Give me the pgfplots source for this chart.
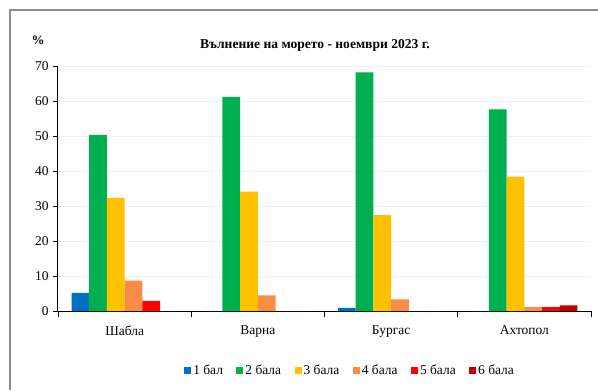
\documentclass[border=0pt]{standalone}
\usepackage{pgfplots}
\pgfplotsset{compat=1.18}
\usepackage{fontspec}
\setmainfont{Liberation Serif}
\definecolor{c1}{HTML}{0070C0}
\definecolor{c2}{HTML}{00B050}
\definecolor{c3}{HTML}{FFC000}
\definecolor{c4}{HTML}{F98D45}
\definecolor{c5}{HTML}{FF0000}
\definecolor{c6}{HTML}{C00000}
\begin{document}
\begin{tikzpicture}
\begin{axis}[
  scale only axis, width=533bp, height=245bp,
  ybar=0pt, bar width=17.7bp,
  xmin=-0.5, xmax=3.5, ymin=0, ymax=70,
  xtick={0,1,2,3},
  xticklabels={Шабла,Варна,Бургас,Ахтопол},
  minor xtick={-0.5,0.5,1.5,2.5,3.5},
  ytick={0,10,20,30,40,50,60,70},
  axis x line*=bottom, axis y line*=left,
  axis line style={black, line width=1bp},
  tick align=outside,
  major tick length=5bp,
  minor tick length=5.5bp,
  x tick style={draw=none},
  minor x tick style={draw=black, line width=0.8bp},
  y tick style={black, line width=0.8bp},
  ymajorgrids, grid style={color=black!6, line width=0.8bp},
  ticklabel style={font=\fontsize{13.5}{14}\selectfont},
  /pgf/number format/assume math mode=true,
  xticklabel style={yshift=-6bp},
  yticklabel style={xshift=-1bp},
  every axis plot/.append style={draw=none},
  legend style={at={(axis description cs:0.548,-0.241)}, anchor=center,
    draw=none, fill=none, legend columns=6,
    font=\fontsize{13.5}{14}\selectfont,
    /tikz/every even column/.append style={column sep=11.5bp}},
  legend image code/.code={\fill[#1] (0bp,-3.5bp) rectangle (7bp,3.5bp);},
]
\addplot[fill=c1] coordinates {(0,5.2) (1,0) (2,0.9) (3,0)};
\addplot[fill=c2] coordinates {(0,50.3) (1,61.2) (2,68.2) (3,57.6)};
\addplot[fill=c3] coordinates {(0,32.3) (1,34.1) (2,27.4) (3,38.4)};
\addplot[fill=c4] coordinates {(0,8.7) (1,4.5) (2,3.3) (3,1.1)};
\addplot[fill=c5] coordinates {(0,2.9) (1,0) (2,0) (3,1.1)};
\addplot[fill=c6] coordinates {(0,0) (1,0) (2,0) (3,1.6)};
\legend{1 бал,2 бала,3 бала,4 бала,5 бала,6 бала}
\coordinate (AO) at (rel axis cs:0,0);
\end{axis}
\begin{scope}[shift={(AO)}, x=1bp, y=1bp, shift={(-58,-79)}]
\pgfresetboundingbox
\path[use as bounding box] (0,0) rectangle (598,390);
\draw[color=black!45, line width=1.2bp] (10,0) -- (10,380) -- (598,380);
\node[font=\bfseries\fontsize{13.6}{15}\selectfont] at (315,345) {Вълнение на морето - ноември 2023 г.};
\node[font=\bfseries\fontsize{13}{14}\selectfont] at (38,350) {\%};
\end{scope}
\end{tikzpicture}
\end{document}
